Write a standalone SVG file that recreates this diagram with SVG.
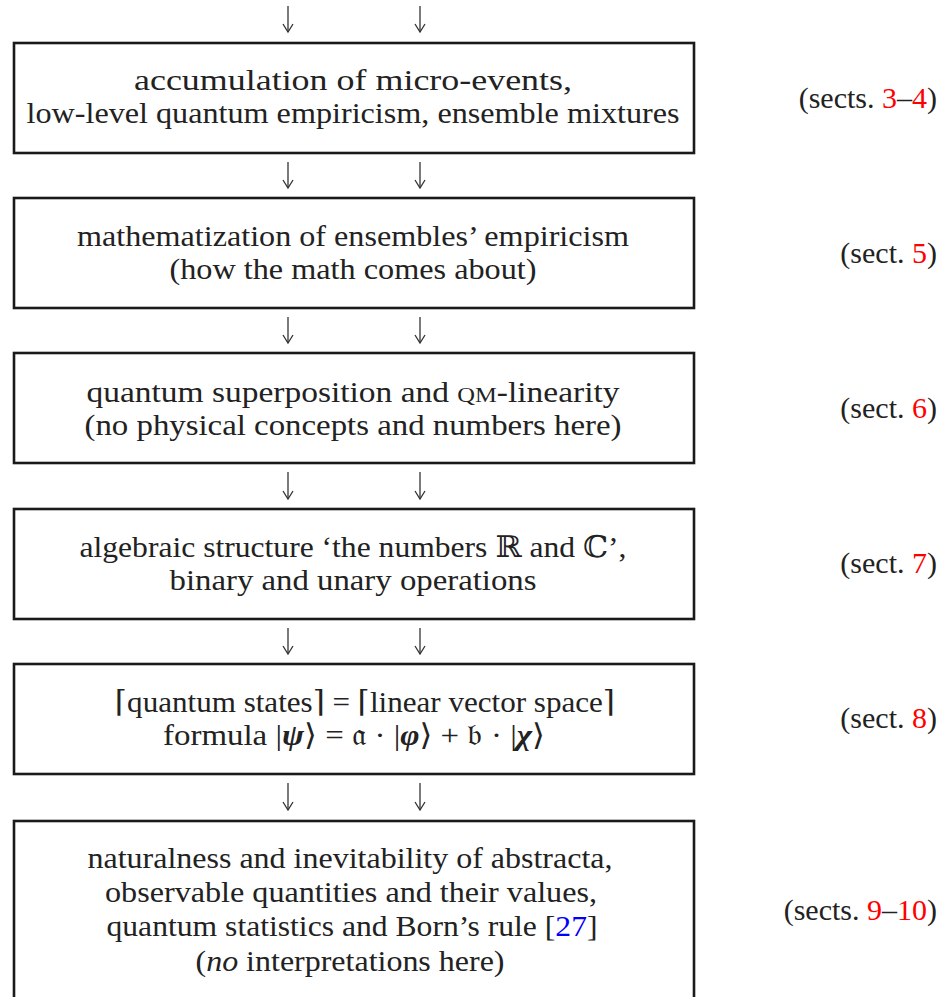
<svg xmlns="http://www.w3.org/2000/svg" width="949" height="997" viewBox="0 0 949 997">
<style>
.box{fill:#fff;stroke:#1a1a1a;stroke-width:2.6}
.t{font-family:"Liberation Serif","DejaVu Serif",serif;font-size:30px;fill:#222;text-anchor:middle}
.r{font-family:"Liberation Serif","DejaVu Serif",serif;font-size:30px;fill:#222;text-anchor:end}
.red{fill:#ff0000}
.blue{fill:#0000ff}
.sc{font-size:22px}
.bi{font-weight:bold;font-style:italic}
.arr{stroke:#333;stroke-width:1.3;fill:none;marker-end:url(#ah)}
</style>
<defs>
<marker id="ah" markerUnits="userSpaceOnUse" markerWidth="12" markerHeight="14" viewBox="-10 -7 12 14" refX="0" refY="0" orient="auto">
<path d="M -8 -5 L 0 0 L -8 5" fill="none" stroke="#333" stroke-width="1.3"/>
</marker>
</defs>
<rect width="949" height="997" fill="#fff"/>
<g id="connectors">
<path class="arr" d="M288 6 V32"/><path class="arr" d="M420 6 V32"/>
<path class="arr" d="M288 162 V188"/><path class="arr" d="M420 162 V188"/>
<path class="arr" d="M288 317 V343"/><path class="arr" d="M420 317 V343"/>
<path class="arr" d="M288 472 V499"/><path class="arr" d="M420 472 V499"/>
<path class="arr" d="M288 628 V654"/><path class="arr" d="M420 628 V654"/>
<path class="arr" d="M288 783 V810"/><path class="arr" d="M420 783 V810"/>
</g>
<g id="node1">
<rect class="box" x="14" y="43" width="680" height="110"/>
<text class="t" x="353" y="90" textLength="438" lengthAdjust="spacingAndGlyphs">accumulation of micro-events,</text>
<text class="t" x="353" y="123" textLength="653" lengthAdjust="spacingAndGlyphs">low-level quantum empiricism, ensemble mixtures</text>
<text class="r" x="937" y="108">(sects. <tspan class="red">3</tspan>–<tspan class="red">4</tspan>)</text>
</g>
<g id="node2">
<rect class="box" x="14" y="198" width="680" height="110"/>
<text class="t" x="353" y="246" textLength="552" lengthAdjust="spacingAndGlyphs">mathematization of ensembles’ empiricism</text>
<text class="t" x="353" y="279" textLength="367" lengthAdjust="spacingAndGlyphs">(how the math comes about)</text>
<text class="r" x="937" y="263">(sect. <tspan class="red">5</tspan>)</text>
</g>
<g id="node3">
<rect class="box" x="14" y="353" width="680" height="110"/>
<text class="t" x="353" y="402" textLength="533" lengthAdjust="spacingAndGlyphs">quantum superposition and <tspan class="sc">QM</tspan>-linearity</text>
<text class="t" x="353" y="435" textLength="537" lengthAdjust="spacingAndGlyphs">(no physical concepts and numbers here)</text>
<text class="r" x="937" y="418">(sect. <tspan class="red">6</tspan>)</text>
</g>
<g id="node4">
<rect class="box" x="14" y="509" width="680" height="110"/>
<text class="t" x="353" y="557" textLength="547" lengthAdjust="spacingAndGlyphs">algebraic structure ‘the numbers ℝ and ℂ’,</text>
<text class="t" x="353" y="590" textLength="367" lengthAdjust="spacingAndGlyphs">binary and unary operations</text>
<text class="r" x="937" y="573">(sect. <tspan class="red">7</tspan>)</text>
</g>
<g id="node5">
<rect class="box" x="14" y="664" width="680" height="110"/>
<text class="t" x="365" y="712" textLength="500" lengthAdjust="spacingAndGlyphs">⌈quantum states⌉ = ⌈linear vector space⌉</text>
<text class="t" x="354" y="745" textLength="382" lengthAdjust="spacingAndGlyphs">formula |<tspan class="bi">ψ</tspan>⟩ = 𝔞 · |<tspan class="bi">φ</tspan>⟩ + 𝔟 · |<tspan class="bi">χ</tspan>⟩</text>
<text class="r" x="937" y="728">(sect. <tspan class="red">8</tspan>)</text>
</g>
<g id="node6">
<rect class="box" x="14" y="821" width="680" height="200"/>
<text class="t" x="350" y="868" textLength="525" lengthAdjust="spacingAndGlyphs">naturalness and inevitability of abstracta,</text>
<text class="t" x="351" y="902" textLength="492" lengthAdjust="spacingAndGlyphs">observable quantities and their values,</text>
<text class="t" x="352" y="936" textLength="491" lengthAdjust="spacingAndGlyphs">quantum statistics and Born’s rule [<tspan class="blue">27</tspan>]</text>
<text class="t" x="350" y="971" textLength="309" lengthAdjust="spacingAndGlyphs">(<tspan font-style="italic">no</tspan> interpretations here)</text>
<text class="r" x="937" y="920">(sects. <tspan class="red">9</tspan>–<tspan class="red">10</tspan>)</text>
</g>
</svg>
